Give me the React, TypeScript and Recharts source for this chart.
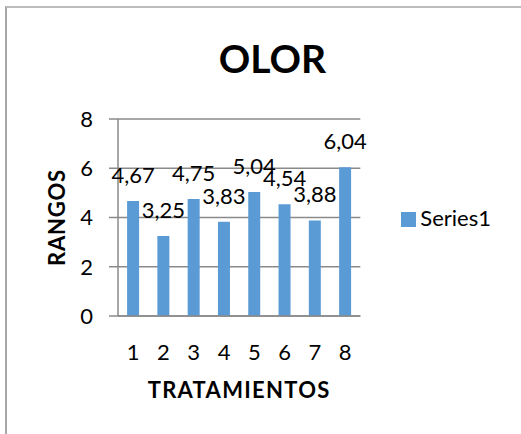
import React from 'react';
import { BarChart, Bar, XAxis, YAxis, CartesianGrid, Legend, LabelList } from 'recharts';

const tratamientos = ['1', '2', '3', '4', '5', '6', '7', '8'];
const rangos = [4.67, 3.25, 4.75, 3.83, 5.04, 4.54, 3.88, 6.04];
const yTicks = [0, 2, 4, 6, 8];
const boundaryTicks = [0, 1, 2, 3, 4, 5, 6, 7, 8];

const data = tratamientos.map((t, i) => ({ name: t, Series1: rangos[i] }));

const FONT = 'Lato, "Open Sans", sans-serif';
const GRID = '#8a8a8a';

const fmt = (v: any) => Number(v).toFixed(2).replace('.', ',');

const App: React.FC = () => {
    return (
        <div style={{ position: 'absolute', left: 0, top: 0, width: 521, height: 434, background: '#fff', fontFamily: FONT }}>
            {/* chart border */}
            <div style={{ position: 'absolute', left: 5, top: 6, width: 520, height: 430, borderLeft: '2px solid #a6a6a6', borderTop: '2px solid #bdbdbd' }} />
            <div style={{ position: 'absolute', left: 0, top: 34, width: 545, textAlign: 'center', fontSize: 39, fontWeight: 700, lineHeight: '48px', color: '#000' }}>
                OLOR
            </div>
            <BarChart
                width={521}
                height={434}
                data={data}
                margin={{ top: 119, right: 20, left: 0, bottom: 18 }}
                barCategoryGap="30%"
                style={{ position: 'absolute', left: 0, top: 0 }}
            >
                <CartesianGrid vertical={false} stroke={GRID} strokeWidth={1.5} />
                <XAxis
                    xAxisId="b"
                    type="number"
                    domain={[0, 8]}
                    ticks={boundaryTicks}
                    height={0}
                    tick={false}
                    tickSize={8}
                    axisLine={false}
                    tickLine={{ stroke: GRID, strokeWidth: 1.5 }}
                />
                <XAxis
                    dataKey="name"
                    height={100}
                    tickSize={8}
                    tickMargin={20}
                    tickLine={false}
                    axisLine={{ stroke: GRID, strokeWidth: 1.5 }}
                    tick={{ fill: '#000', fontSize: 22, fontFamily: FONT }}
                    label={{ value: 'TRATAMIENTOS', position: 'insideBottom', offset: 18, fill: '#000', fontSize: 22, fontWeight: 700, fontFamily: FONT, letterSpacing: 1.3 }}
                />
                <YAxis
                    width={118}
                    domain={[0, 8]}
                    ticks={yTicks}
                    tickSize={9}
                    tickMargin={16}
                    axisLine={{ stroke: GRID, strokeWidth: 1.5 }}
                    tickLine={{ stroke: GRID, strokeWidth: 1.5 }}
                    tick={{ fill: '#000', fontSize: 22, fontFamily: FONT }}
                    label={{ value: 'RANGOS', angle: -90, position: 'center', dx: -2, fill: '#000', fontSize: 22, fontWeight: 700, fontFamily: FONT, letterSpacing: 0.8 }}
                />
                <Legend
                    layout="vertical"
                    align="right"
                    verticalAlign="middle"
                    iconType="square"
                    iconSize={15}
                    wrapperStyle={{ paddingLeft: 41, fontFamily: FONT, fontSize: 22 }}
                    formatter={(v) => <span style={{ color: '#000' }}>{v}</span>}
                />
                <Bar dataKey="Series1" fill="#5b9bd5" isAnimationActive={false}>
                    <LabelList dataKey="Series1" position="top" offset={18} formatter={fmt} fill="#000" fontSize={22} fontFamily={FONT} />
                </Bar>
            </BarChart>
        </div>
    );
};

export default App;
